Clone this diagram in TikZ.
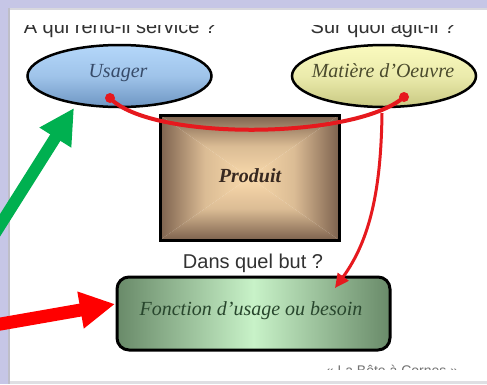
\documentclass[tikz,border=0pt]{standalone}
\usepackage{fontspec}
\setmainfont{Liberation Serif}
\setsansfont{Liberation Sans}
\usetikzlibrary{shapes.geometric,arrows.meta}
\definecolor{lav}{RGB}{198,198,230}
\definecolor{edgegrey}{RGB}{190,190,200}
\definecolor{ublue1}{RGB}{180,215,250}
\definecolor{ublue2}{RGB}{110,150,195}
\definecolor{utext}{RGB}{55,75,105}
\definecolor{myel1}{RGB}{250,250,190}
\definecolor{myel2}{RGB}{200,200,130}
\definecolor{mtext}{RGB}{75,75,45}
\definecolor{pbrown}{RGB}{125,98,78}
\definecolor{ppeach}{RGB}{250,218,172}
\definecolor{ptext}{RGB}{55,40,32}
\definecolor{fgreen1}{RGB}{105,138,105}
\definecolor{fgreen2}{RGB}{200,242,200}
\definecolor{ftext}{RGB}{40,70,45}
\definecolor{lbl}{RGB}{50,50,50}
\definecolor{curvered}{RGB}{230,25,30}
\definecolor{arrred}{RGB}{255,0,0}
\definecolor{arrgreen}{RGB}{0,176,80}
\tikzset{
  ovalbox/.style={ellipse, draw=black, line width=2.5pt, minimum width=184pt, minimum height=62pt, inner sep=0pt},
  serlabel/.style={font=\fontsize{20}{24}\selectfont\itshape, anchor=base, inner sep=0pt},
  question/.style={font=\sffamily\fontsize{20}{24}\selectfont, text=lbl, anchor=base, inner sep=0pt},
  reddot/.style={circle, fill=curvered, minimum size=10pt, inner sep=0pt},
  link/.style={draw=curvered, line width=4pt},
  bigarrow/.style={line width=#1, -{Triangle[length=35pt,width=35pt]}}
}
\begin{document}
\begin{tikzpicture}[x=1pt,y=-1pt]
\useasboundingbox (0,0) rectangle (487,384);
% background
\fill[white] (0,0) rectangle (487,384);
\fill[lav] (0,0) rectangle (487,8);
\fill[lav] (0,0) rectangle (8,384);
\fill[edgegrey] (8,8) rectangle (10,384);
\fill[edgegrey!60] (10,8) rectangle (487,9.5);
\fill[edgegrey!50] (10,381) rectangle (487,384);
% top questions (clipped like the screenshot)
\begin{scope}
\clip (0,25.5) rectangle (487,384);
\node[question] (q1) at (120,33) {A qui rend-il service ?};
\node[question] (q2) at (383,33) {Sur quoi agit-il ?};
\end{scope}
% ellipses
\node[ovalbox, top color=ublue1, bottom color=ublue2, middle color=ublue1!70!ublue2] (usager) at (119.5,76) {};
\node[serlabel, text=utext] (tusager) at (118,77) {Usager};
\node[ovalbox, top color=myel1, bottom color=myel2, middle color=myel1!70!myel2] (matiere) at (384,76) {};
\node[serlabel, text=mtext] (tmatiere) at (383,77) {Matière d'Oeuvre};
% produit box with pyramid shading
\coordinate (pc) at (249.5,177.5);
\shade[top color=pbrown, bottom color=ppeach, middle color=ppeach!75!pbrown] (160,115) -- (339,115) -- (pc) -- cycle;
\shade[top color=ppeach, bottom color=pbrown, middle color=ppeach!75!pbrown] (160,240) -- (339,240) -- (pc) -- cycle;
\shade[left color=pbrown, right color=ppeach, middle color=ppeach!75!pbrown] (160,115) -- (160,240) -- (pc) -- cycle;
\shade[left color=ppeach, right color=pbrown, middle color=ppeach!75!pbrown] (339,115) -- (339,240) -- (pc) -- cycle;
\node[draw=black, line width=3pt, minimum width=179pt, minimum height=125pt, inner sep=0pt] (produit) at (pc) {};
\node[serlabel, font=\fontsize{20}{24}\selectfont\bfseries\itshape, text=ptext] (tproduit) at (250,182) {Produit};
% dans quel but
\node[question] (q3) at (253,268) {Dans quel but ?};
% fonction box
\node[draw=black, line width=3pt, rounded corners=12pt, minimum width=273pt, minimum height=73pt, inner sep=0pt,
      left color=fgreen1, right color=fgreen1, middle color=fgreen2] (fonction) at (253.5,313.5) {};
\node[serlabel, text=ftext] (tfonction) at (251,315) {Fonction d’usage ou besoin};
% signature
\begin{scope}
\clip (0,0) rectangle (487,369);
\node[font=\sffamily\fontsize{14}{16}\selectfont, text=black!55, anchor=base, inner sep=0pt] (sig) at (392,375) {« La Bête à Cornes »};
\end{scope}
% red links
\node[reddot] (udot) at (110,98) {};
\node[reddot] (mdot) at (404,97) {};
\draw[link] (udot.center) .. controls (150,141) and (355,140) .. (mdot.center);
\coordinate (junction) at (382,113);
\coordinate (ftip) at (335,288);
\draw[draw=curvered, line width=3pt, -{Triangle[length=14pt,width=13pt]}, color=curvered]
  (junction) .. controls (381,190) and (370,240) .. (ftip);
% big arrows
\coordinate (gstart) at (-8,238);
\coordinate (gtip) at (74,108);
\draw[bigarrow=12pt, draw=arrgreen, color=arrgreen] (gstart) -- (gtip);
\coordinate (rstart) at (-8,325.5);
\coordinate (rtip) at (115,304);
\draw[bigarrow=13pt, draw=arrred, color=arrred] (rstart) -- (rtip);
\end{tikzpicture}
\end{document}
